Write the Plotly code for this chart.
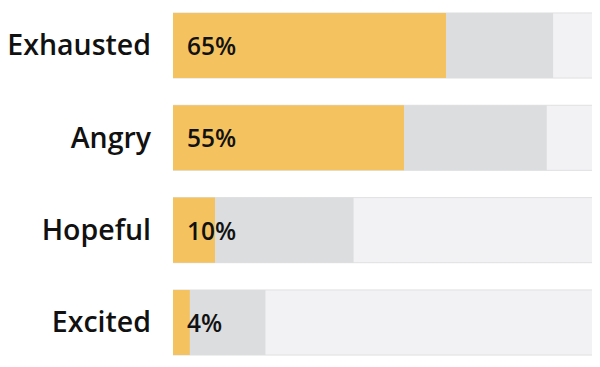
import plotly.graph_objects as go

categories = ["Exhausted", "Angry", "Hopeful", "Excited"]
primary = [65, 55, 10, 4]
secondary = [90.5, 89, 43, 22]
track = [100, 100, 100, 100]
labels = ["65%", "55%", "10%", "4%"]

FONT = "Open Sans"
BW = 0.705

fig = go.Figure()
fig.add_trace(go.Bar(y=categories, x=track, orientation="h",
                     marker=dict(color="#F2F2F4", line=dict(color="#E0E0E2", width=1)),
                     width=BW, hoverinfo="skip", showlegend=False))
fig.add_trace(go.Bar(y=categories, x=secondary, orientation="h",
                     marker=dict(color="#DCDDDF", line=dict(width=0)),
                     width=BW, showlegend=False))
fig.add_trace(go.Bar(y=categories, x=primary, orientation="h",
                     marker=dict(color="#F5C260", line=dict(width=0)),
                     width=BW, showlegend=False))

for c, t in zip(categories, labels):
    fig.add_annotation(x=0, y=c, text=t, showarrow=False, xanchor="left", xshift=12,
                       yshift=0,
                       font=dict(family=FONT, size=24.5, color="#111111", weight=600))

fig.update_layout(
    width=600, height=367,
    margin=dict(l=165, r=15, t=0, b=8, autoexpand=False),
    barmode="overlay",
    plot_bgcolor="white", paper_bgcolor="white",
    xaxis=dict(range=[0, 100], visible=False, fixedrange=True),
    yaxis=dict(categoryorder="array", categoryarray=categories, range=[3.482, -0.406],
               showgrid=False, zeroline=False, showline=False, ticks="",
               ticklabelstandoff=21,
               tickfont=dict(family=FONT, size=28.5, color="#111111", weight=600)),
)
fig.write_html("out.html")
